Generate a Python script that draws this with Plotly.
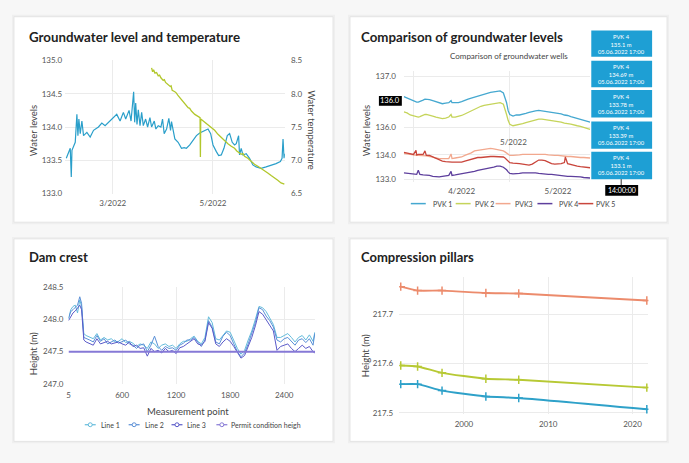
import plotly.graph_objects as go

W, H = 689, 463


def px(x):
    return x / W


def py(y):
    return 1 - y / H


# ---------------- data ----------------
# Panel 1: groundwater level and temperature
gw_dates = [
    "2022-01-31 17:00", "2022-02-03 03:00", "2022-02-03 18:00", "2022-02-04 04:00", "2022-02-06 04:00",
    "2022-02-07 04:00", "2022-02-07 19:00", "2022-02-08 09:00", "2022-02-09 05:00", "2022-02-10 05:00",
    "2022-02-11 05:00", "2022-02-13 06:00", "2022-02-15 06:00", "2022-02-17 07:00", "2022-02-20 07:00",
    "2022-02-22 08:00", "2022-02-24 08:00", "2022-02-26 09:00", "2022-03-01 10:00", "2022-03-03 10:00",
    "2022-03-05 11:00", "2022-03-07 11:00", "2022-03-08 21:00", "2022-03-10 22:00", "2022-03-12 03:00",
    "2022-03-13 03:00", "2022-03-13 17:00", "2022-03-14 08:00", "2022-03-14 23:00", "2022-03-15 18:00",
    "2022-03-16 13:00", "2022-03-17 14:00", "2022-03-18 14:00", "2022-03-19 14:00", "2022-03-21 00:00",
    "2022-03-22 05:00", "2022-03-23 15:00", "2022-03-24 15:00", "2022-03-26 06:00", "2022-03-27 06:00",
    "2022-03-28 16:00", "2022-03-30 07:00", "2022-03-31 07:00", "2022-04-01 07:00", "2022-04-02 18:00",
    "2022-04-04 03:00", "2022-04-05 04:00", "2022-04-05 18:00", "2022-04-06 18:00", "2022-04-07 19:00",
    "2022-04-09 19:00", "2022-04-11 20:00", "2022-04-13 10:00", "2022-04-14 20:00", "2022-04-16 21:00",
    "2022-04-18 21:00", "2022-04-20 22:00", "2022-04-22 22:00", "2022-04-25 23:00", "2022-04-27 23:00",
    "2022-04-29 14:00", "2022-05-01 00:00", "2022-05-03 01:00", "2022-05-04 11:00", "2022-05-06 01:00",
    "2022-05-07 16:00", "2022-05-09 17:00", "2022-05-11 03:00", "2022-05-12 17:00", "2022-05-14 03:00",
    "2022-05-15 04:00", "2022-05-16 14:00", "2022-05-17 04:00", "2022-05-18 04:00", "2022-05-19 05:00",
    "2022-05-21 05:00", "2022-05-23 06:00", "2022-05-25 06:00", "2022-05-27 06:00", "2022-05-30 07:00",
    "2022-06-02 08:00", "2022-06-05 09:00", "2022-06-08 09:00", "2022-06-11 00:00", "2022-06-12 01:00",
    "2022-06-12 15:00", "2022-06-13 06:00", "2022-06-13 16:00",
]
gw_level = [
    133.53, 133.68, 133.25, 133.65, 133.77,
    134.19, 133.87, 134.12, 133.90, 134.09,
    133.87, 133.92, 133.85, 133.95, 134.00,
    134.06, 134.02, 134.07, 134.14, 134.19,
    134.09, 134.22, 134.12, 134.25, 134.09,
    134.31, 134.53, 134.07, 134.36, 134.04,
    134.26, 134.02, 134.22, 134.02, 134.12,
    134.00, 134.14, 134.00, 134.09, 133.97,
    134.02, 134.00, 134.12, 133.90, 133.97,
    134.13, 133.95, 134.08, 133.97, 133.82,
    133.77, 133.68, 133.69, 133.68, 133.73,
    133.80, 133.87, 133.91, 133.95, 133.97,
    133.90, 133.73, 133.63, 133.57, 133.58,
    133.68, 133.87, 133.90, 133.77, 133.73,
    133.75, 133.87, 133.58, 133.68, 133.58,
    133.60, 133.53, 133.43, 133.40, 133.38,
    133.40, 133.42, 133.45, 133.48, 133.53,
    133.82, 133.53, 133.60,
]
temp_dates = [
    "2022-03-24 15:00", "2022-03-25 06:00", "2022-03-25 20:00", "2022-03-26 16:00", "2022-03-27 16:00",
    "2022-03-28 16:00", "2022-03-29 12:00", "2022-03-30 07:00", "2022-03-31 17:00", "2022-04-01 10:00",
    "2022-04-02 03:00", "2022-04-03 18:00", "2022-04-04 23:00", "2022-04-05 12:00", "2022-04-06 04:00",
    "2022-04-07 19:00", "2022-04-08 18:00", "2022-04-09 19:00", "2022-04-11 20:00", "2022-04-12 20:00",
    "2022-04-13 20:00", "2022-04-15 21:00", "2022-04-16 20:00", "2022-04-17 21:00", "2022-04-19 22:00",
    "2022-04-21 22:00", "2022-04-23 03:00", "2022-04-23 08:00", "2022-04-23 13:00", "2022-04-24 12:00",
    "2022-04-25 23:00", "2022-04-27 23:00", "2022-04-30 00:00", "2022-05-02 00:00", "2022-05-04 01:00",
    "2022-05-06 01:00", "2022-05-08 02:00", "2022-05-10 02:00", "2022-05-12 03:00", "2022-05-14 03:00",
    "2022-05-15 12:00", "2022-05-16 04:00", "2022-05-18 04:00", "2022-05-19 06:00", "2022-05-20 05:00",
    "2022-05-22 05:00", "2022-05-24 06:00", "2022-05-26 06:00", "2022-05-28 07:00", "2022-05-30 07:00",
    "2022-06-01 08:00", "2022-06-03 08:00", "2022-06-05 09:00", "2022-06-07 09:00", "2022-06-09 10:00",
    "2022-06-11 10:00", "2022-06-13 11:00",
]
temp_vals = [
    8.39, 8.33, 8.36, 8.31, 8.32,
    8.27, 8.28, 8.24, 8.20, 8.21,
    8.17, 8.13, 8.11, 8.12, 8.05,
    8.03, 8.01, 7.97, 7.91, 7.89,
    7.85, 7.79, 7.78, 7.74, 7.69,
    7.65, 7.64, 7.05, 7.62, 7.60,
    7.57, 7.54, 7.50, 7.45, 7.39,
    7.34, 7.30, 7.25, 7.21, 7.18,
    7.14, 7.13, 7.09, 7.10, 7.06,
    7.03, 6.98, 6.94, 6.91, 6.88,
    6.84, 6.81, 6.77, 6.74, 6.70,
    6.66, 6.64,
]

# Panel 2: comparison of groundwater wells
well_dates = [
    "2022-03-29", "2022-03-30", "2022-03-31", "2022-04-01", "2022-04-01 19:00",
    "2022-04-02", "2022-04-02 12:00", "2022-04-03", "2022-04-04", "2022-04-04 14:00",
    "2022-04-05", "2022-04-06", "2022-04-07", "2022-04-08", "2022-04-09",
    "2022-04-10", "2022-04-11", "2022-04-12", "2022-04-12 17:00", "2022-04-13",
    "2022-04-14", "2022-04-15", "2022-04-16", "2022-04-17", "2022-04-18",
    "2022-04-19", "2022-04-20", "2022-04-21", "2022-04-22", "2022-04-23",
    "2022-04-24", "2022-04-25", "2022-04-26", "2022-04-27", "2022-04-28",
    "2022-04-29", "2022-04-29 12:00", "2022-04-30", "2022-04-30 12:00", "2022-05-01",
    "2022-05-02", "2022-05-03", "2022-05-04", "2022-05-05", "2022-05-06",
    "2022-05-07", "2022-05-08", "2022-05-09", "2022-05-10", "2022-05-11",
    "2022-05-12", "2022-05-13", "2022-05-14", "2022-05-15", "2022-05-16",
    "2022-05-17", "2022-05-18", "2022-05-18 07:00", "2022-05-19", "2022-05-20",
    "2022-05-21", "2022-05-22", "2022-05-23", "2022-05-24", "2022-05-25",
    "2022-05-26",
]
pvk1 = [
    136.60, 136.57, 136.54, 136.51, 136.50, 136.49, 136.49, 136.50, 136.53, 136.55,
    136.55, 136.54, 136.52, 136.50, 136.47, 136.46, 136.47, 136.48, 136.52, 136.48,
    136.48, 136.48, 136.50, 136.53, 136.55, 136.57, 136.59, 136.61, 136.63, 136.65,
    136.66, 136.68, 136.69, 136.70, 136.71, 136.67, 136.57, 136.48, 136.32, 136.25,
    136.22, 136.24, 136.24, 136.25, 136.27, 136.29, 136.31, 136.32, 136.33, 136.32,
    136.32, 136.31, 136.30, 136.29, 136.27, 136.26, 136.24, 136.24, 136.23, 136.21,
    136.19, 136.17, 136.15, 136.13, 136.11, 136.10,
]
pvk2 = [
    136.30, 136.28, 136.24, 136.22, 136.20, 136.20, 136.20, 136.21, 136.24, 136.25,
    136.25, 136.24, 136.22, 136.20, 136.18, 136.17, 136.18, 136.20, 136.25, 136.20,
    136.20, 136.21, 136.23, 136.26, 136.29, 136.32, 136.36, 136.38, 136.41, 136.43,
    136.44, 136.45, 136.46, 136.48, 136.48, 136.45, 136.36, 136.25, 136.13, 136.06,
    136.03, 136.04, 136.06, 136.07, 136.09, 136.11, 136.13, 136.15, 136.16, 136.16,
    136.15, 136.15, 136.13, 136.12, 136.11, 136.10, 136.08, 136.08, 136.07, 136.06,
    136.04, 136.03, 136.02, 136.00, 135.98, 135.96,
]
pvk3 = [
    135.49, 135.48, 135.47, 135.45, 135.45, 135.45, 135.45, 135.45, 135.45, 135.45,
    135.44, 135.43, 135.41, 135.40, 135.39, 135.39, 135.39, 135.39, 135.48, 135.39,
    135.40, 135.41, 135.42, 135.45, 135.47, 135.50, 135.54, 135.55, 135.57, 135.58,
    135.59, 135.59, 135.58, 135.57, 135.55, 135.54, 135.52, 135.49, 135.47, 135.45,
    135.45, 135.45, 135.46, 135.47, 135.47, 135.48, 135.48, 135.48, 135.48, 135.47,
    135.47, 135.46, 135.45, 135.45, 135.45, 135.44, 135.44, 135.44, 135.43, 135.43,
    135.42, 135.42, 135.41, 135.41, 135.41, 135.40,
]
pvk4 = [
    135.11, 135.10, 135.09, 135.08, 135.08, 135.08, 135.16, 135.08, 135.07, 135.07,
    135.06, 135.06, 135.04, 135.03, 135.03, 135.04, 135.05, 135.06, 135.14, 135.06,
    135.07, 135.08, 135.09, 135.10, 135.11, 135.13, 135.14, 135.16, 135.17, 135.18,
    135.20, 135.21, 135.22, 135.24, 135.24, 135.22, 135.20, 135.17, 135.13, 135.10,
    135.09, 135.09, 135.10, 135.11, 135.11, 135.12, 135.11, 135.11, 135.10, 135.09,
    135.08, 135.08, 135.08, 135.07, 135.07, 135.06, 135.05, 135.05, 135.04, 135.04,
    135.04, 135.03, 135.03, 135.02, 135.01, 135.01,
]
pvk5 = [
    135.51, 135.50, 135.48, 135.47, 135.55, 135.46, 135.47, 135.47, 135.47, 135.54,
    135.45, 135.45, 135.42, 135.39, 135.36, 135.34, 135.33, 135.32, 135.32, 135.32,
    135.32, 135.32, 135.32, 135.34, 135.36, 135.38, 135.39, 135.41, 135.41, 135.42,
    135.43, 135.43, 135.43, 135.43, 135.43, 135.42, 135.40, 135.37, 135.33, 135.31,
    135.30, 135.30, 135.29, 135.28, 135.27, 135.26, 135.28, 135.32, 135.36, 135.36,
    135.35, 135.32, 135.29, 135.28, 135.28, 135.29, 135.31, 135.42, 135.29, 135.27,
    135.25, 135.24, 135.23, 135.22, 135.22, 135.21,
]
well_names = ["PVK 1", "PVK 2", "PVK3", "PVK 4", "PVK 5"]
well_colors = ["#45a8d0", "#c5d45a", "#f2a88e", "#5e3f9d", "#c9463c"]
well_tick_vals = [137.0, 136.0, 135.46, 134.98]
well_tick_text = ["137.0", "136.0", "134.0", "133.0"]
tooltip_name = "PVK 4"
tooltip_values = ["135.1 m", "134.69 m", "133.78 m", "133.39 m", "133.1 m"]
tooltip_time = "05.06.2022 17:00"
spike_y_label = "136.0"
spike_x_label = "14:00:00"
stray_x_label = "5/2022"

# Panel 3: dam crest
dam_x = [5, 30, 55, 80, 105, 130, 150, 175, 200, 240, 280, 320, 360, 400, 440, 480, 520, 560, 600,
         640, 680, 720, 760, 800, 840, 880, 920, 960, 1000, 1040, 1080, 1120, 1160, 1200, 1240,
         1280, 1320, 1360, 1400, 1440, 1480, 1520, 1560, 1600, 1640, 1680, 1720, 1760, 1800,
         1840, 1880, 1920, 1960, 2000, 2040, 2080, 2120, 2160, 2200, 2240, 2280, 2320, 2360,
         2400, 2440, 2480, 2520, 2560, 2600, 2640, 2680, 2720, 2740]
dam_line1 = [248.00, 248.15, 248.20, 248.22, 248.10, 248.30, 248.20, 247.78, 247.75, 247.72, 247.70,
             247.78, 247.68, 247.72, 247.68, 247.70, 247.65, 247.66, 247.70, 247.64, 247.66, 247.63,
             247.58, 247.62, 247.60, 247.55, 247.65, 247.62, 247.55, 247.60, 247.62, 247.58, 247.60,
             247.55, 247.62, 247.66, 247.66, 247.70, 247.74, 247.66, 247.62, 247.72, 248.04, 247.95,
             247.70, 247.68, 247.76, 247.82, 247.80, 247.68, 247.55, 247.46, 247.52, 247.68, 247.82,
             248.00, 248.20, 248.18, 248.12, 248.02, 247.92, 247.72, 247.72, 247.75, 247.78, 247.72,
             247.65, 247.72, 247.75, 247.68, 247.76, 247.66, 247.80]
dam_line2 = [248.02, 248.12, 248.15, 248.18, 248.22, 248.35, 248.25, 247.72, 247.70, 247.68, 247.65,
             247.75, 247.66, 247.70, 247.62, 247.65, 247.68, 247.63, 247.66, 247.68, 247.62, 247.60,
             247.55, 247.60, 247.62, 247.50, 247.60, 247.74, 247.58, 247.52, 247.58, 247.55, 247.56,
             247.52, 247.60, 247.63, 247.68, 247.68, 247.72, 247.64, 247.58, 247.68, 247.98, 247.88,
             247.65, 247.62, 247.74, 247.80, 247.75, 247.62, 247.50, 247.42, 247.48, 247.62, 247.78,
             247.95, 248.18, 248.15, 248.05, 247.98, 247.88, 247.68, 247.65, 247.70, 247.72, 247.66,
             247.60, 247.68, 247.70, 247.64, 247.70, 247.60, 247.78]
dam_line3 = [247.98, 248.05, 248.10, 248.13, 248.17, 248.22, 248.15, 247.68, 247.65, 247.62, 247.60,
             247.70, 247.62, 247.64, 247.66, 247.62, 247.63, 247.65, 247.62, 247.60, 247.65, 247.58,
             247.60, 247.55, 247.56, 247.43, 247.55, 247.50, 247.52, 247.48, 247.55, 247.50, 247.52,
             247.47, 247.56, 247.58, 247.62, 247.66, 247.70, 247.62, 247.60, 247.66, 247.95, 247.86,
             247.62, 247.58, 247.65, 247.70, 247.66, 247.58, 247.48, 247.40, 247.44, 247.58, 247.72,
             247.90, 248.12, 248.08, 248.00, 247.92, 247.82, 247.52, 247.58, 247.60, 247.62, 247.55,
             247.50, 247.55, 247.60, 247.55, 247.58, 247.50, 247.48]
permit_height = 247.5
dam_names = ["Line 1", "Line 2", "Line 3", "Permit condition heigh"]
dam_colors = ["#63bbdb", "#5a8fd6", "#5a5ac9", "#8679d6"]
dam_ticks = [5, 600, 1200, 1800, 2400]

# Panel 4: compression pillars
pillar_years = [1992.5, 1994.5, 1997.4, 2002.6, 2006.5, 2021.7]
pillar_a = [217.756, 217.748, 217.748, 217.743, 217.742, 217.728]
pillar_b = [217.596, 217.594, 217.581, 217.569, 217.567, 217.551]
pillar_c = [217.558, 217.558, 217.545, 217.533, 217.530, 217.507]
pillar_colors = ["#ec8b6c", "#b7c934", "#2ea1c9"]
pillar_ticks = [2000, 2010, 2020]

titles = ["Groundwater level and temperature", "Comparison of groundwater levels",
          "Dam crest", "Compression pillars"]

# ---------------- figure ----------------
FONT = "Lato"
GRID = "#ebebeb"
TICK = dict(family=FONT, size=8, color="#555555")
fig = go.Figure()

# panel 1
fig.add_trace(go.Scatter(x=gw_dates, y=gw_level, xaxis="x", yaxis="y", mode="lines",
                         line=dict(color="#2a9fca", width=1.2)))
fig.add_trace(go.Scatter(x=temp_dates, y=temp_vals, xaxis="x", yaxis="y2", mode="lines",
                         line=dict(color="#b2c72c", width=1.3)))
# panel 2
for name, vals, col in zip(well_names, [pvk1, pvk2, pvk3, pvk4, pvk5], well_colors):
    fig.add_trace(go.Scatter(x=well_dates, y=vals, name=name, xaxis="x2", yaxis="y3",
                             mode="lines", line=dict(color=col, width=1.3)))
# panel 3
for name, vals, col in zip(dam_names[:3], [dam_line1, dam_line2, dam_line3], dam_colors[:3]):
    fig.add_trace(go.Scatter(x=dam_x, y=vals, name=name, xaxis="x3", yaxis="y4", mode="lines",
                             line=dict(color=col, width=1.0)))
fig.add_trace(go.Scatter(x=[dam_x[0], 2743], y=[permit_height, permit_height], name=dam_names[3],
                         xaxis="x3", yaxis="y4", mode="lines",
                         line=dict(color=dam_colors[3], width=2)))
# panel 4
for vals, col in zip([pillar_a, pillar_b, pillar_c], pillar_colors):
    fig.add_trace(go.Scatter(x=pillar_years, y=vals, xaxis="x4", yaxis="y5", mode="lines+markers",
                             line=dict(color=col, width=1.9, shape="spline", smoothing=0.5),
                             marker=dict(symbol="cross-thin", size=6, color=col,
                                         line=dict(color=col, width=1.5))))

ax = dict(showgrid=True, gridcolor=GRID, gridwidth=1, zeroline=False, showline=False,
          tickfont=TICK, ticks="")

shapes = []
annotations = []


def note(text, x, y, size, color, xanchor="center", angle=0, bold=False):
    annotations.append(dict(text=("<b>" + text + "</b>") if bold else text, x=px(x), y=py(y),
                            xref="paper", yref="paper", xanchor=xanchor, yanchor="middle",
                            textangle=angle, showarrow=False, align="center", borderpad=0,
                            font=dict(family=FONT, size=size, color=color)))


# cards
for (x0, y0, x1, y1) in [(12, 12, 332, 222), (349, 12, 667, 222), (12, 239, 332, 446), (349, 239, 667, 446)]:
    shapes.append(dict(type="rect", xref="paper", yref="paper", x0=px(x0 - 2), x1=px(x1 + 2),
                       y0=py(y1 + 2), y1=py(y0 - 2), fillcolor="#efefef", line=dict(width=0), layer="below"))
    shapes.append(dict(type="rect", xref="paper", yref="paper", x0=px(x0), x1=px(x1),
                       y0=py(y1), y1=py(y0), fillcolor="#ffffff", line=dict(color="#e4e4e4", width=1),
                       layer="below"))

# titles
for t, (x, y), s in zip(titles, [(26, 32.5), (359, 32.5), (26, 258), (359, 258)], [13.3, 13.3, 13, 13]):
    note(t, x, y, s, "#222222", xanchor="left", bold=True)

# axis titles
for t, (x, y), ang in [("Water levels", (31, 128), -90), ("Water temperature", (311, 128), 90),
                       ("Water levels", (365, 128), -90), ("Height (m)", (31, 356), -90),
                       ("Height (m)", (364, 358), -90), ("Measurement point", (187, 415), 0)]:
    note(t, x, y, 9.5, "#444444", angle=ang)

# subtitle panel 2 and stray label
note("Comparison of groundwater wells", 508, 52, 8, "#444444")
note(stray_x_label, 513, 140, 8, "#555555")

# legend panel 2
for name, col, (l0, l1, tx) in zip(well_names, well_colors,
                                  [(410, 425, 431), (455, 470, 473), (495, 510, 513), (537, 552, 558), (578, 593, 595)]):
    shapes.append(dict(type="line", xref="paper", yref="paper", x0=px(l0), x1=px(l1), y0=py(203), y1=py(203),
                       line=dict(color=col, width=1.5)))
    note(name, tx, 203, 7, "#444444", xanchor="left")

# legend panel 3
for name, col, (l0, l1, tx) in zip(dam_names, dam_colors,
                                  [(83, 94, 98), (127, 138, 142), (170, 181, 185), (215, 226, 229)]):
    shapes.append(dict(type="line", xref="paper", yref="paper", x0=px(l0), x1=px(l1), y0=py(429), y1=py(429),
                       line=dict(color=col, width=1.2)))
    cx = (l0 + l1) / 2
    shapes.append(dict(type="circle", xref="paper", yref="paper", x0=px(cx - 2), x1=px(cx + 2),
                       y0=py(431), y1=py(427), fillcolor="#ffffff", line=dict(color=col, width=1)))
    note(name, tx, 429, 7, "#444444", xanchor="left")

# tooltips panel 2
for val, (y0, y1) in zip(tooltip_values, [(26, 53), (57, 84), (87, 115), (119, 147), (150, 178)]):
    shapes.append(dict(type="rect", xref="paper", yref="paper", x0=px(591), x1=px(652), y0=py(y1), y1=py(y0),
                       fillcolor="#1e9fd4", line=dict(width=0)))
    note(tooltip_name + "<br>" + val + "<br>" + tooltip_time, 621.5, (y0 + y1) / 2, 5.8, "#ffffff")
shapes.append(dict(type="line", xref="paper", yref="paper", x0=px(621), x1=px(621), y0=py(184), y1=py(178),
                   line=dict(color="#333333", width=1)))
shapes.append(dict(type="rect", xref="paper", yref="paper", x0=px(605), x1=px(638), y0=py(195), y1=py(184),
                   fillcolor="#000000", line=dict(width=0)))
note(spike_x_label, 621.5, 189.5, 7, "#ffffff")
shapes.append(dict(type="rect", xref="paper", yref="paper", x0=px(378), x1=px(401), y0=py(103), y1=py(93),
                   fillcolor="#000000", line=dict(width=0)))
note(spike_y_label, 389.5, 98, 7.5, "#ffffff")

fig.update_layout(
    width=W, height=H, margin=dict(l=0, r=0, t=0, b=0),
    paper_bgcolor="#f7f7f7", plot_bgcolor="rgba(0,0,0,0)", showlegend=False,
    font=dict(family=FONT, color="#555555"),
    xaxis=dict(ax, domain=[px(63.3), px(283.7)], anchor="y", type="date",
               range=["2022-01-31 00:00", "2022-06-13 18:00"], dtick="M2", tick0="2022-01-01",
               tickformat="%-m/%Y", ticklabelstandoff=3),
    yaxis=dict(ax, domain=[py(192.7), py(56.7)], anchor="x", range=[133, 135], dtick=0.5,
               tickformat=".1f", ticklabelstandoff=2),
    yaxis2=dict(ax, overlaying="y", side="right", anchor="x", range=[6.5, 8.5], dtick=0.5,
                tickformat=".1f", showgrid=False, ticklabelstandoff=5),
    xaxis2=dict(ax, domain=[px(403), px(589.8)], anchor="y3", type="date",
                range=["2022-03-29", "2022-05-26"], dtick="M1", tick0="2022-01-01",
                ticklabelmode="period", tickformat="%-m/%Y", ticklabelstandoff=3),
    yaxis3=dict(ax, domain=[py(181), py(67.4)], anchor="x2", range=[134.93, 137.1],
                tickvals=well_tick_vals, ticktext=well_tick_text, ticklabelstandoff=7),
    xaxis3=dict(ax, domain=[px(66.7), px(314)], anchor="y4", range=[5, 2743],
                tickvals=dam_ticks, ticklabelstandoff=5),
    yaxis4=dict(ax, domain=[py(387.3), py(288.3)], anchor="x3", range=[247.0, 248.5], dtick=0.5,
                tickformat=".1f", ticklabelstandoff=4),
    xaxis4=dict(ax, domain=[px(398.3), px(648.3)], anchor="y5", range=[1992.31, 2021.89],
                tickvals=pillar_ticks, ticklabelstandoff=4),
    yaxis5=dict(ax, domain=[py(418), py(278.3)], anchor="x4", range=[217.4975, 217.775],
                tickvals=[217.5, 217.6, 217.7], tickformat=".1f", ticklabelstandoff=5),
    shapes=shapes, annotations=annotations,
)

fig.write_html("out.html")
